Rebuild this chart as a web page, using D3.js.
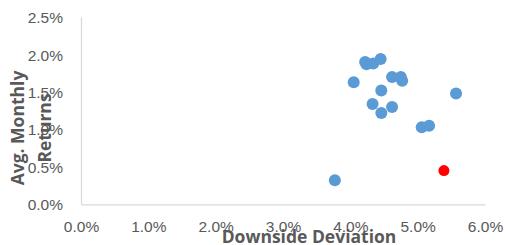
<!DOCTYPE html>
<html>
<head>
<meta charset="utf-8">
<script src="https://cdn.jsdelivr.net/npm/d3@7"></script>
<style>
  html, body { margin: 0; padding: 0; background: #fff; }
</style>
</head>
<body>
<div id="mainChart"></div>
<script>
// downside deviation (%) vs avg monthly return (%)
const downside = [ 4.22, 4.24, 4.34, 4.45, 4.05, 4.62, 4.75, 4.77, 4.46, 5.57, 4.33, 4.62, 4.46, 5.06, 5.17, 3.77 ];
const returns  = [ 1.90, 1.87, 1.88, 1.94, 1.63, 1.70, 1.70, 1.65, 1.52, 1.48, 1.34, 1.30, 1.22, 1.03, 1.05, 0.32 ];
// highlighted point
const highlightX = [ 5.39 ];
const highlightY = [ 0.45 ];

const xTicks = [ 0, 1, 2, 3, 4, 5, 6 ];
const yTicks = [ 0, 0.5, 1.0, 1.5, 2.0, 2.5 ];
const xTitle = 'Downside Deviation';
const yTitle = [ 'Avg. Monthly', 'Returns' ];

const CHART_SIZE = { width: 505, height: 245 };
const MARGIN = { top: 17, right: 20, bottom: 41, left: 81 };

const x = d3.scaleLinear()
    .domain([ 0, 6 ])
    .range([ MARGIN.left, CHART_SIZE.width - MARGIN.right ]);

const y = d3.scaleLinear()
    .domain([ 0, 2.5 ])
    .range([ CHART_SIZE.height - MARGIN.bottom + 0.3, MARGIN.top ]);

const svg = d3.select('#mainChart')
    .append('svg')
    .attr('width', CHART_SIZE.width)
    .attr('height', CHART_SIZE.height)
    .style('font-family', '"Open Sans", sans-serif');

const fmt = d => d.toFixed(1) + '%';

const xAxis = svg.append('g')
    .attr('transform', `translate(0, ${y(0)})`)
    .call(d3.axisBottom(x).tickValues(xTicks).tickFormat(fmt).tickSize(0).tickPadding(17));

const yAxis = svg.append('g')
    .attr('transform', `translate(${x(0)}, 0)`)
    .call(d3.axisLeft(y).tickValues(yTicks).tickFormat(fmt).tickSize(0).tickPadding(18));

[ xAxis, yAxis ].forEach(g => {
    g.select('.domain').attr('stroke', '#d9d9d9').attr('stroke-width', 1.3);
    g.selectAll('text')
        .attr('fill', '#595959')
        .style('font-size', '15.5px');
});
yAxis.selectAll('text').attr('dy', '0.36em');

// blue points
svg.append('g')
    .selectAll('circle')
    .data(downside.map((d, i) => [ d, returns[i] ]))
    .join('circle')
    .attr('cx', d => x(d[0]))
    .attr('cy', d => y(d[1]))
    .attr('r', 6)
    .attr('fill', '#5b9bd5');

svg.append('g')
    .selectAll('circle')
    .data(highlightX.map((d, i) => [ d, highlightY[i] ]))
    .join('circle')
    .attr('cx', d => x(d[0]))
    .attr('cy', d => y(d[1]))
    .attr('r', 5.5)
    .attr('fill', '#ff0000');

// titles
svg.append('text')
    .attr('x', 309)
    .attr('y', 243)
    .attr('text-anchor', 'middle')
    .attr('fill', '#595959')
    .style('font-size', '17.5px')
    .style('font-weight', 'bold')
    .text(xTitle);

svg.append('g')
    .selectAll('text')
    .data(yTitle)
    .join('text')
    .attr('transform', (d, i) => `translate(${24 + i * 27}, 128) rotate(-90)`)
    .attr('text-anchor', 'middle')
    .attr('fill', '#595959')
    .style('font-size', '17.5px')
    .style('font-weight', 'bold')
    .text(d => d);
</script>
</body>
</html>
